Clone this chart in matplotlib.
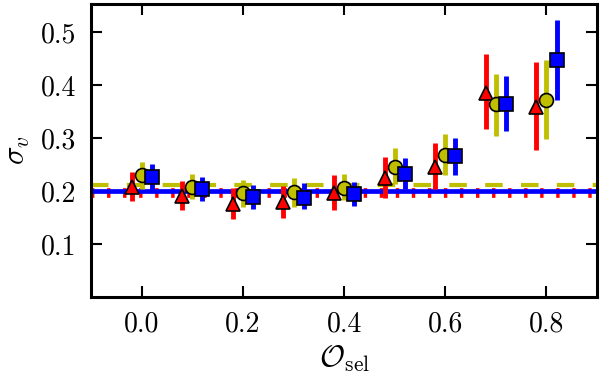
import numpy as np
import matplotlib
matplotlib.use("Agg")
import matplotlib.pyplot as plt

plt.rcParams['font.family'] = 'serif'
plt.rcParams['font.serif'] = ['cmr10']
plt.rcParams['mathtext.fontset'] = 'cm'
plt.rcParams['axes.formatter.use_mathtext'] = True

o_sel = np.array([0.0, 0.1, 0.2, 0.3, 0.4, 0.5, 0.6, 0.7, 0.8])

# red triangles
red_val = [0.208, 0.191, 0.175, 0.180, 0.196, 0.225, 0.246, 0.386, 0.359]
red_hi = [0.236, 0.219, 0.206, 0.209, 0.230, 0.265, 0.291, 0.458, 0.444]
red_lo = [0.182, 0.164, 0.148, 0.150, 0.165, 0.188, 0.205, 0.318, 0.277]

# yellow circles
yel_val = [0.230, 0.208, 0.196, 0.198, 0.206, 0.246, 0.269, 0.364, 0.373]
yel_hi = [0.255, 0.233, 0.221, 0.224, 0.232, 0.281, 0.307, 0.422, 0.448]
yel_lo = [0.205, 0.186, 0.170, 0.170, 0.183, 0.214, 0.230, 0.304, 0.299]

# blue squares
blu_val = [0.227, 0.205, 0.189, 0.188, 0.194, 0.233, 0.267, 0.365, 0.447]
blu_hi = [0.251, 0.226, 0.211, 0.215, 0.218, 0.263, 0.301, 0.418, 0.523]
blu_lo = [0.202, 0.182, 0.167, 0.167, 0.172, 0.204, 0.230, 0.313, 0.372]

# reference levels
red_level = 0.196
blu_level = 0.201
yel_level = 0.211

fig = plt.figure(figsize=(6, 3.78), dpi=100)
ax = fig.add_axes([0.152, 0.214, 0.843, 0.775])

ax.axhline(red_level, color='r', lw=7, dashes=(0.35, 1.3), zorder=1)
ax.axhline(blu_level, color='b', lw=3.4, zorder=2)
ax.axhline(yel_level, color='y', lw=3.0, dashes=(4.2, 4.4), zorder=1.5)

def draw(xs, val, hi, lo, color, marker, ms):
    val = np.array(val)
    err = [val - np.array(lo), np.array(hi) - val]
    ax.errorbar(xs, val, yerr=err, fmt=marker, color=color, ms=ms,
                mec='k', mew=1.2, elinewidth=3.5, capsize=0, zorder=3)

draw(o_sel - 0.02, red_val, red_hi, red_lo, 'r', '^', 10)
draw(o_sel, yel_val, yel_hi, yel_lo, 'y', 'o', 10)
draw(o_sel + 0.02, blu_val, blu_hi, blu_lo, 'b', 's', 9.5)

ax.set_xlim(-0.1, 0.9)
ax.set_ylim(0.0, 0.553)
ax.set_xticks([0.0, 0.2, 0.4, 0.6, 0.8])
ax.set_yticks([0.1, 0.2, 0.3, 0.4, 0.5])
ax.set_xticklabels(['0.0', '0.2', '0.4', '0.6', '0.8'])
ax.set_yticklabels(['0.1', '0.2', '0.3', '0.4', '0.5'])
ax.tick_params(direction='in', top=True, right=True, length=8, width=1.5,
               labelsize=20)
ax.tick_params(axis='x', pad=10)
ax.tick_params(axis='y', pad=11)
for s in ax.spines.values():
    s.set_linewidth(2.2)

ax.set_xlabel(r'$\mathcal{O}_{\rm sel}$', fontsize=22, labelpad=4)
ax.set_ylabel(r'$\sigma_v$', fontsize=22, labelpad=6)

fig.savefig('out.png', dpi=100)
